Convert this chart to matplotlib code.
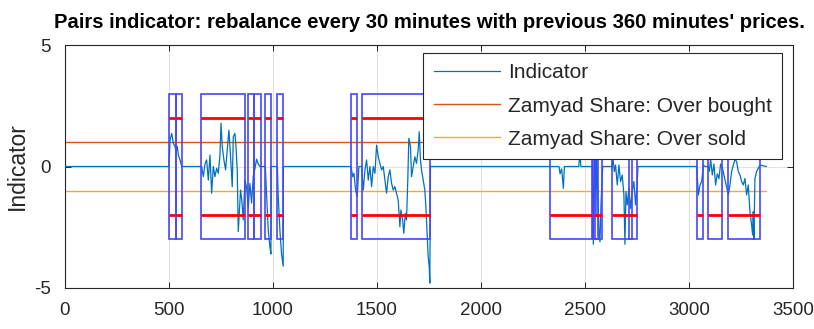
import matplotlib.pyplot as plt
from matplotlib.patches import Rectangle

# -------------------------------
# Data
# -------------------------------

# indicator: minute and value (0 when no position is open)
minutos = [0, 500, 505, 513, 521, 529, 534, 540, 545, 553, 561,
           657, 665, 673, 681, 689, 697, 705, 713, 721, 729, 737, 745, 750, 756, 764,
           772, 780, 788, 796, 804, 809, 817, 822, 828, 833, 838, 844, 850, 857, 865,
           873, 881, 889, 897, 905, 913, 921, 929, 937,
           963, 969, 977, 985, 990, 991,
           1021, 1025, 1033, 1041, 1049, 1050,
           1375, 1383, 1389, 1397, 1405, 1413, 1426, 1434, 1442, 1450, 1458, 1466, 1474,
           1482, 1490, 1498, 1506, 1514, 1522, 1530, 1538, 1546, 1554, 1562, 1570, 1578,
           1586, 1594, 1602, 1610, 1615, 1623, 1629, 1636, 1642, 1648, 1653, 1661, 1666,
           1674, 1682, 1690, 1698, 1703, 1709, 1714, 1722, 1730, 1735, 1741, 1746, 1751,
           1754, 1757,
           2375, 2380, 2388, 2396, 2401, 2470, 2476, 2480,
           2537, 2540, 2545, 2548, 2553, 2556, 2561, 2567, 2572, 2577, 2580, 2585,
           2630, 2635, 2641, 2647, 2655, 2663, 2671, 2679, 2687, 2692, 2697, 2703, 2711,
           2719, 2727, 2735, 2743, 2750, 2755,
           3037, 3045, 3053, 3061, 3069, 3077,
           3093, 3098, 3104, 3112, 3120, 3128, 3136, 3144, 3152, 3159,
           3189, 3197, 3205, 3213, 3221, 3229, 3237, 3245, 3253, 3261, 3269, 3277, 3285,
           3293, 3301, 3306, 3309, 3312, 3317, 3325, 3333, 3341, 3372]
indicador = [0, 0, 1.09, 1.36, 0.95, 0.82, 0.61, 0.82, 0.47, 0.27, 0.0,
             0, -0.42, 0.1, 0.27, -0.56, 0.47, -1.1, 0.0, -0.42, -0.07, -0.28, 0.47, 1.78, 0.82, 0.27,
             -0.14, 0.68, 1.5, 0.4, -0.83, 1.23, 1.36, 0.82, -0.14, -2.68, -1.93, -0.97, -1.38, -2.2, -0.56,
             -0.85, -1.7, -0.7, -1.5, -0.4, -0.1, 0.3, 0.1, 0.0,
             0, -1.1, -2.6, -3.3, -3.6, 0,
             0, -1.2, -2.6, -3.6, -4.1, 0,
             0, -0.42, -0.28, -0.97, -1.24, 0, 0, -0.97, -0.14, 0.27, -0.56, 0.0, -0.83,
             0.0, -0.28, 0.88, 0.4, 0.13, -0.14, 0.0, -0.56, -1.1, -0.42, -0.14, -0.69, -0.97,
             -0.83, -1.1, -1.38, -2.48, -1.79, -2.2, -2.75, -1.93, -2.2, -0.56, 1.16, 0.82, -0.42,
             0.0, 0.4, 0.13, 0.68, 1.43, 0.27, -0.14, -0.56, -0.97, -1.65, -2.75, -3.71, -4.12,
             -4.8, 0,
             0, -0.3, -0.1, -0.9, 0, 0, 0.6, 0,
             0, -3.2, -0.5, 0.8, -2.0, 0.5, -1.0, -2.6, -3.1, -1.5, -1.0, 0,
             0, 0.3, -0.21, 0.06, -0.76, 0.06, -0.62, -0.35, -1.17, -3.2, -1.03, -1.58, -0.9,
             -1.72, -1.03, -0.62, -1.58, -0.76, 0,
             0, -1.17, -0.76, -0.62, 0.06, 0,
             0, -0.2, 0.3, -0.35, 0.1, -0.76, -0.3, -0.5, 0.1, 0,
             -1.17, -0.76, -0.21, 0.06, 0.3, 0.2, -0.21, -0.35, -0.62, -0.76, -0.49, -1.17, -0.76,
             -1.86, -2.41, -2.82, -1.86, -3.0, -0.49, -0.21, -0.07, 0.06, 0]

# thresholds
sobre_compra = 1.0
sobre_venta = -1.0
fin_datos = 3372

# trading windows (blue boxes)
inicio_caja = [500, 532, 654, 881, 910, 963, 1021, 1375, 1426, 2330, 2540, 2548,
               2628, 2713, 3037, 3093, 3189]
fin_caja = [532, 564, 865, 910, 942, 989, 1050, 1402, 1755, 2535, 2564, 2580,
            2725, 2750, 3069, 3157, 3341]
caja_alto = 3.0
nivel_rojo = 2.0

xticks = [0, 500, 1000, 1500, 2000, 2500, 3000, 3500]
yticks = [-5, 0, 5]

# -------------------------------
# Plot
# -------------------------------

plt.rcParams['font.family'] = ['Liberation Sans', 'DejaVu Sans']
plt.rcParams['axes.unicode_minus'] = False
gris = '#262626'

fig = plt.figure(figsize=(8.14, 3.29), dpi=100)
ax = fig.add_axes([65 / 814, 1 - 288 / 329, 728 / 814, 243 / 329])

ax.plot(minutos, indicador, color='#0072BD', lw=0.9, label='Indicator', zorder=3)
ax.plot([0, fin_datos], [sobre_compra, sobre_compra], color='#D95319', lw=1.0,
        label='Zamyad Share: Over bought', zorder=2)
ax.plot([0, fin_datos], [sobre_venta, sobre_venta], color='#EDB120', lw=1.0,
        label='Zamyad Share: Over sold', zorder=2)

for s, e in zip(inicio_caja, fin_caja):
    ax.add_patch(Rectangle((s, -caja_alto), e - s, 2 * caja_alto, fill=False,
                           edgecolor='#4646ff', lw=1.2, zorder=4))
    ax.hlines([nivel_rojo, -nivel_rojo], s, e, color='#ff0000', lw=2.0, zorder=4)

ax.set_xlim(0, 3500)
ax.set_ylim(-5, 5)
ax.set_xticks(xticks)
ax.set_yticks(yticks)
ax.grid(True, color='#e2e2e2', lw=0.8, zorder=0)
ax.set_axisbelow(True)
ax.tick_params(direction='in', length=4, width=0.7, top=True, right=True,
               colors=gris, labelsize=13.5, pad=10)
for sp in ax.spines.values():
    sp.set_color(gris)
    sp.set_linewidth(0.8)

ax.set_ylabel('Indicator', fontsize=16.5, color=gris)
ax.yaxis.set_label_coords(-0.049, 0.5)
ax.set_title("Pairs indicator: rebalance every 30 minutes with previous 360 minutes' prices.",
             fontsize=14.6, fontweight='bold', pad=12)

leg = ax.legend(loc='upper right', bbox_to_anchor=(0.985, 0.967), borderaxespad=0,
                fontsize=15, handlelength=3.2, handletextpad=0.35, labelspacing=0.68,
                borderpad=0.5, fancybox=False, framealpha=1)
leg.get_frame().set_edgecolor(gris)
leg.get_frame().set_linewidth(0.8)
for t in leg.get_texts():
    t.set_color(gris)

fig.savefig('out.png', dpi=100)
